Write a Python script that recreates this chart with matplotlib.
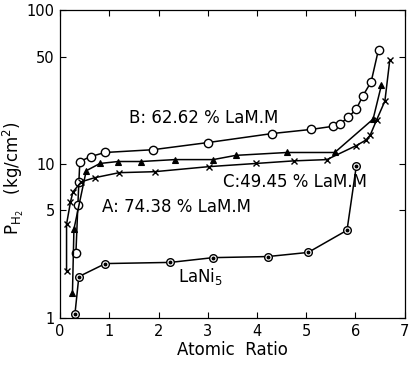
import numpy as np
import matplotlib
matplotlib.use("Agg")
import matplotlib.pyplot as plt

plt.rcParams["font.family"] = "DejaVu Sans"
plt.rcParams["mathtext.default"] = "regular"

# ----------------------------------------------------------------------
# Data (x = atomic ratio, y = kg/cm2)
# ----------------------------------------------------------------------
b_x = [0.32, 0.36, 0.38, 0.40, 0.62, 0.91, 1.88, 3.00, 4.31, 5.10, 5.54, 5.68, 5.86, 6.02, 6.15, 6.32, 6.47]
b_y = [2.63, 5.4, 7.6, 10.4, 11.2, 11.9, 12.4, 13.8, 15.8, 16.8, 17.6, 18.2, 20.2, 22.8, 27.7, 34.2, 55.5]

a_x = [0.25, 0.28, 0.53, 0.81, 1.18, 1.65, 2.33, 3.11, 3.57, 4.61, 5.58, 6.36, 6.53]
a_y = [1.46, 3.78, 9.06, 10.1, 10.4, 10.4, 10.7, 10.7, 11.4, 11.9, 11.9, 19.6, 32.7]

c_x = [0.13, 0.13, 0.21, 0.26, 0.43, 0.70, 1.20, 1.92, 3.02, 3.98, 4.75, 5.42, 6.02, 6.21, 6.30, 6.43, 6.60, 6.70]
c_y = [2.03, 4.07, 5.68, 6.6, 7.68, 8.16, 8.8, 8.93, 9.63, 10.1, 10.5, 10.7, 13.2, 14.3, 15.4, 19.3, 25.7, 47.7]

lani_x = [0.30, 0.38, 0.92, 2.24, 3.11, 4.22, 5.04, 5.83, 6.02]
lani_y = [1.06, 1.86, 2.26, 2.30, 2.47, 2.51, 2.67, 3.72, 9.77]

x_ticks = [0, 1, 2, 3, 4, 5, 6, 7]
y_ticks = [1, 5, 10, 50, 100]
y_tick_labels = ["1", "5", "10", "50", "100"]

fig = plt.figure(figsize=(4.12, 3.76), dpi=100)
ax = fig.add_axes([0.146, 0.154, 0.836, 0.819])

lw = 1.1
ax.plot(b_x, b_y, color="black", lw=lw, marker="o", ms=6, mfc="white", mec="black", mew=1.0)
ax.plot(a_x, a_y, color="black", lw=lw, marker="^", ms=4, mfc="black", mec="black", mew=0.8)
ax.plot(c_x, c_y, color="black", lw=lw, marker="x", ms=4.5, mec="black", mew=1.0)
ax.plot(lani_x, lani_y, color="black", lw=lw, marker="o", ms=5.5, mfc="white", mec="black", mew=1.0)
ax.plot(lani_x, lani_y, ls="none", marker="o", ms=1.8, mfc="black", mec="black")

ax.set_yscale("log")
ax.set_xlim(0, 7)
ax.set_ylim(1, 100)
ax.set_xticks(x_ticks)
ax.set_yticks(y_ticks)
ax.set_yticklabels(y_tick_labels)
ax.minorticks_off()
ax.tick_params(direction="in", top=True, right=True, length=4, width=0.8, labelsize=10.5, pad=4)
for s in ax.spines.values():
    s.set_linewidth(0.9)

ax.set_xlabel("Atomic  Ratio", fontsize=12, labelpad=2)
ax.set_ylabel("P$_{H_2}$   (kg/cm$^2$)", fontsize=12)
ax.yaxis.set_label_coords(-0.10, 0.455)

ax.text(1.4, 20.0, "B: 62.62 % LaM.M", fontsize=12, va="center", ha="left")
ax.text(0.86, 5.3, "A: 74.38 % LaM.M", fontsize=12, va="center", ha="left")
ax.text(3.3, 7.6, "C:49.45 % LaM.M", fontsize=12, va="center", ha="left")
ax.text(2.4, 1.86, "LaNi$_5$", fontsize=12, va="center", ha="left")

fig.savefig("out.png", dpi=100)
